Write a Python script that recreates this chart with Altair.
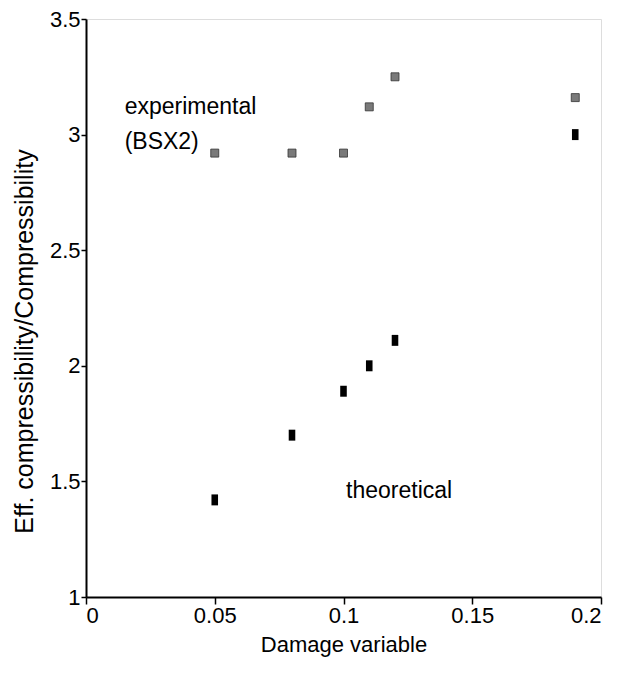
import altair as alt
import pandas as pd

damage = [0.05, 0.08, 0.10, 0.11, 0.12, 0.19]
experimental = [2.92, 2.92, 2.92, 3.12, 3.25, 3.16]
theoretical = [1.42, 1.70, 1.89, 2.00, 2.11, 3.00]

label_text = ["experimental", "(BSX2)", "theoretical"]
label_x = [0.015, 0.015, 0.101]
label_y = [3.12, 2.97, 1.46]

exp_df = pd.DataFrame({"d": damage, "r": experimental})
th_df = pd.DataFrame({"d": damage, "r": theoretical})
lab_df = pd.DataFrame({"t": label_text, "d": label_x, "r": label_y})

FONT = "Liberation Sans"

xs = alt.Scale(domain=[0, 0.2], nice=False, zero=False)
ys = alt.Scale(domain=[1, 3.5], nice=False, zero=False)

xenc = alt.X("d:Q", scale=xs, title="Damage variable",
             axis=alt.Axis(values=[0, 0.05, 0.1, 0.15, 0.2], format="~g",
                           grid=False, domainColor="black", domainWidth=2,
                           tickColor="black", tickWidth=1.5, tickSize=7,
                           labelFont=FONT, labelFontSize=22, labelColor="black",
                           labelPadding=1, titleFont=FONT, titleFontSize=22,
                           titleFontWeight="normal", titleColor="black", titlePadding=8))
yenc = alt.Y("r:Q", scale=ys, title="Eff. compressibility/Compressibility",
             axis=alt.Axis(values=[1, 1.5, 2, 2.5, 3, 3.5], format="~g",
                           grid=False, domainColor="black", domainWidth=2,
                           tickColor="black", tickWidth=1.5, tickSize=5,
                           labelFont=FONT, labelFontSize=22, labelColor="black",
                           labelPadding=1, titleFont=FONT, titleFontSize=25,
                           titleFontWeight="normal", titleColor="black",
                           titleX=-62, titleY=322, titleAngle=270,
                           titleAlign="center", titleBaseline="middle"))

exp_pts = alt.Chart(exp_df).mark_point(
    shape="square", filled=True, color="#7a7a7a", size=64, opacity=1,
    stroke="#333", strokeWidth=0.8
).encode(x=xenc, y=yenc)

th_pts = alt.Chart(th_df).mark_point(
    shape="M-0.6,-1L0.6,-1L0.6,1L-0.6,1Z", filled=True, color="black",
    size=120, opacity=1
).encode(x=alt.X("d:Q", scale=xs), y=alt.Y("r:Q", scale=ys))

labels = alt.Chart(lab_df).mark_text(
    align="left", baseline="middle", font=FONT, fontSize=23, color="black"
).encode(x=alt.X("d:Q", scale=xs), y=alt.Y("r:Q", scale=ys), text="t:N")

chart = alt.layer(exp_pts, th_pts, labels).properties(
    width=515, height=578,
    autosize=alt.AutoSizeParams(type="none"),
    padding={"left": 78, "top": 11, "right": 5, "bottom": 60},
).configure_view(stroke="black", strokeWidth=2).configure(background="white")

chart.save("out.html", embed_options={"renderer": "svg", "actions": False})
